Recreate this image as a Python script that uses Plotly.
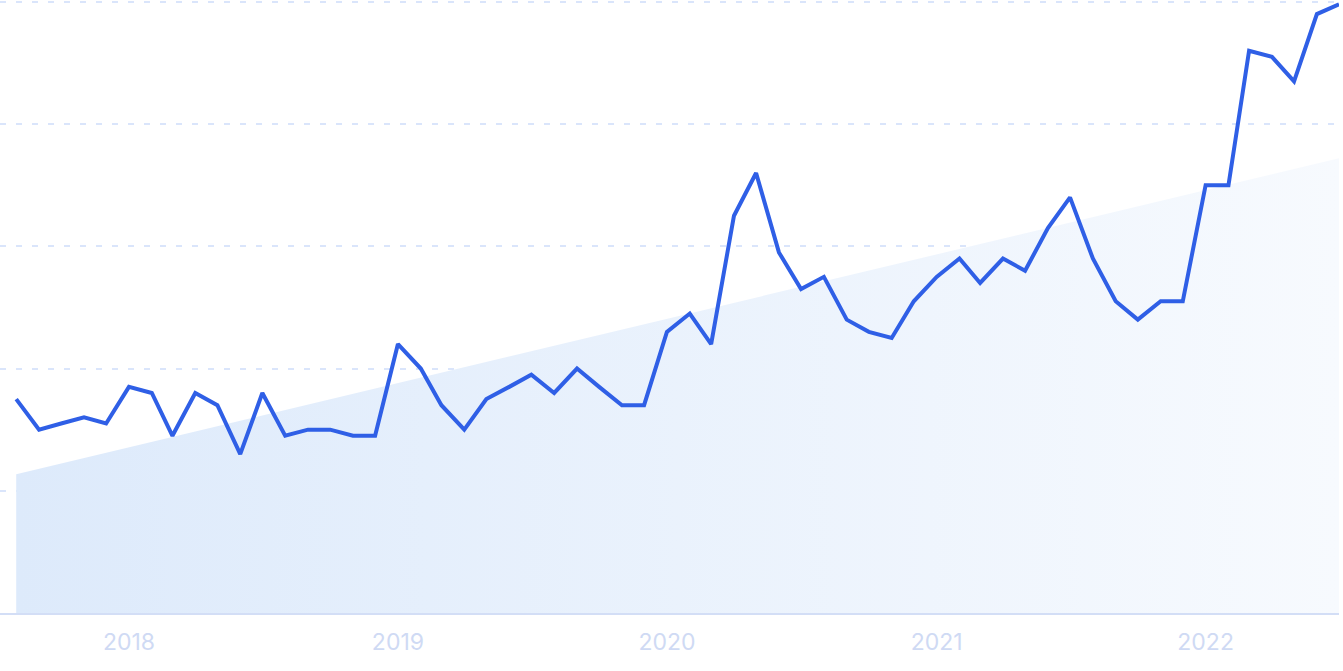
import plotly.graph_objects as go
import pandas as pd

# monthly values, Aug 2017 .. Jul 2022
months = pd.date_range("2017-08-01", "2022-07-01", freq="MS")
values = [35, 30, 31, 32, 31, 37, 36, 29, 36, 34,
          26, 36, 29, 30, 30, 29, 29, 44, 40, 34,
          30, 35, 37, 39, 36, 40, 37, 34, 34, 46,
          49, 44, 65, 72, 59, 53, 55, 48, 46, 45,
          51, 55, 58, 54, 58, 56, 63, 68, 58, 51,
          48, 51, 51, 70, 70, 92, 91, 87, 98, 99.6]

# trend line, start and end
trend_dates = [months[0], months[-1]]
trend_values = [22.7, 74.4]

year_ticks = ["2018-01-01", "2019-01-01", "2020-01-01", "2021-01-01", "2022-01-01"]
year_labels = ["2018", "2019", "2020", "2021", "2022"]

fig = go.Figure()

fig.add_trace(go.Scatter(
    x=trend_dates, y=trend_values,
    mode="lines", line=dict(width=0),
    fill="tozeroy",
    fillgradient=dict(type="horizontal",
                      colorscale=[[0, "rgb(221,234,251)"], [1, "rgb(247,250,254)"]]),
    hoverinfo="skip", showlegend=False))

fig.add_trace(go.Scatter(
    x=months, y=values,
    mode="lines", line=dict(color="#2f5fe6", width=4),
    showlegend=False, cliponaxis=False))

fig.update_xaxes(
    range=[months[0] - pd.Timedelta(days=22), months[-1]],
    tickvals=year_ticks, ticktext=year_labels,
    showgrid=False, zeroline=False,
    showline=True, linecolor="#d3def6", linewidth=1.5,
    ticks="", ticklabelstandoff=8,
    tickfont=dict(size=23, color="#cfdaf4"))

fig.update_yaxes(
    range=[0, 100.3], dtick=20,
    showticklabels=False, zeroline=False,
    showgrid=True, gridcolor="#dae5fb", griddash="6px,10px", gridwidth=1.5)

fig.update_layout(
    width=1343, height=671,
    margin=dict(l=0, r=4, t=0, b=58),
    plot_bgcolor="white", paper_bgcolor="white",
    font=dict(family="Inter, Roboto, sans-serif"))

# page body has an 8px default margin; drop it so the chart sits at the window corner
fig.write_html("out.html", config={"displayModeBar": False},
               post_script="document.body.style.margin='0';")
